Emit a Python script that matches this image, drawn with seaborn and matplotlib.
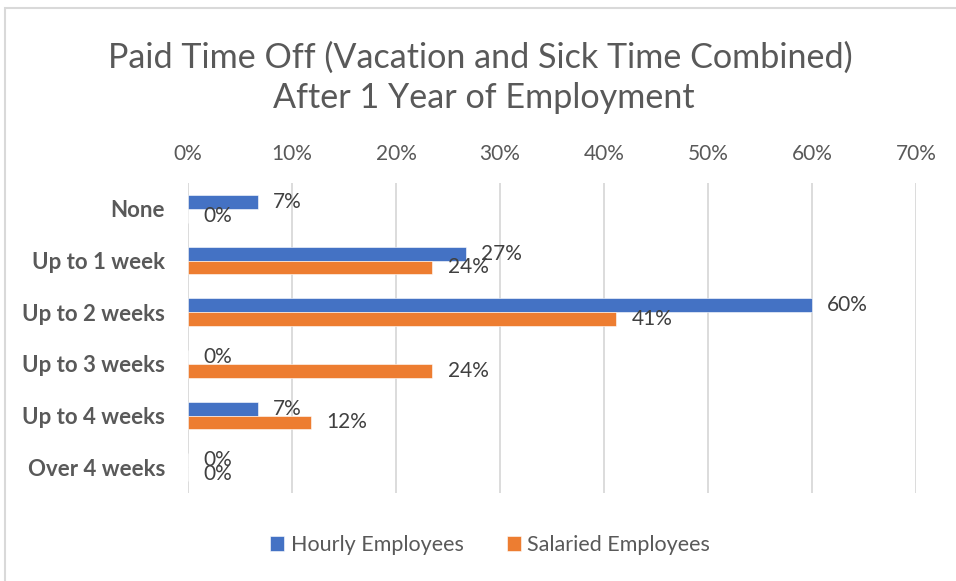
import matplotlib
matplotlib.use("Agg")
import matplotlib.pyplot as plt
from matplotlib.patches import Rectangle
from matplotlib.ticker import PercentFormatter
import seaborn as sns
import pandas as pd

# Paid time off after one year, share of respondents (%)
categories = ["None", "Up to 1 week", "Up to 2 weeks", "Up to 3 weeks",
              "Up to 4 weeks", "Over 4 weeks"]
hourly = [6.7, 26.7, 60.0, 0.0, 6.7, 0.0]
salaried = [0.0, 23.5, 41.2, 23.5, 11.8, 0.0]
series = ["Hourly Employees", "Salaried Employees"]
x_ticks = [0, 10, 20, 30, 40, 50, 60, 70]

df = pd.DataFrame({
    "category": categories * 2,
    "series": [series[0]] * len(categories) + [series[1]] * len(categories),
    "value": hourly + salaried,
})

sns.set_theme(style="white")
plt.rcParams["font.family"] = ["Lato", "DejaVu Sans"]

TEXT = "#595959"
fig = plt.figure(figsize=(9.56, 5.81), dpi=100)
W, H = 956, 581
ax = fig.add_axes([188 / W, 1 - 493 / H, (916 - 188) / W, (493 - 183) / H])

sns.barplot(data=df, y="category", x="value", hue="series", orient="h",
            palette=["#4472C4", "#ED7D31"], saturation=1, width=0.53, gap=0,
            edgecolor="white", linewidth=0.4, ax=ax, legend=True)

ax.set_xlim(0, 70)
ax.set_xticks(x_ticks)
ax.xaxis.set_major_formatter(PercentFormatter(decimals=0))
ax.xaxis.tick_top()
ax.tick_params(axis="x", length=0, pad=14, labelsize=15, labelcolor=TEXT)
ax.tick_params(axis="y", length=0, pad=16.5, labelcolor=TEXT)
for lbl in ax.get_yticklabels():
    lbl.set_fontweight("bold")
    lbl.set_fontsize(16)
ax.set_xlabel("")
ax.set_ylabel("")
ax.grid(axis="x", color="#D9D9D9", linewidth=1.3)
ax.set_axisbelow(True)
for s in ax.spines.values():
    s.set_visible(False)

for cont in ax.containers:
    ax.bar_label(cont, labels=[f"{round(v)}%" for v in cont.datavalues],
                 padding=11, fontsize=15, color="#404040")

handles, labels = ax.get_legend_handles_labels()
ax.legend_.remove()
fig.legend(handles, labels, loc="center", bbox_to_anchor=(490 / W, 1 - 545 / H),
           ncol=2, frameon=False, fontsize=15.5, handlelength=0.65,
           handleheight=0.65, handletextpad=0.3, columnspacing=2.0,
           labelcolor=TEXT)

fig.text(480 / W, 1 - 58 / H, "Paid Time Off (Vacation and Sick Time Combined)",
         ha="center", va="center", fontsize=24.6, color=TEXT)
fig.text(484 / W, 1 - 98 / H, "After 1 Year of Employment",
         ha="center", va="center", fontsize=24.6, color=TEXT)

# chart area border
fig.patches.append(Rectangle((4.5 / W, -0.1), 1.2, 1 - 7.5 / H + 0.1,
                             transform=fig.transFigure, fill=False,
                             edgecolor="#D9D9D9", linewidth=1.5))

fig.savefig("out.png", dpi=100)
